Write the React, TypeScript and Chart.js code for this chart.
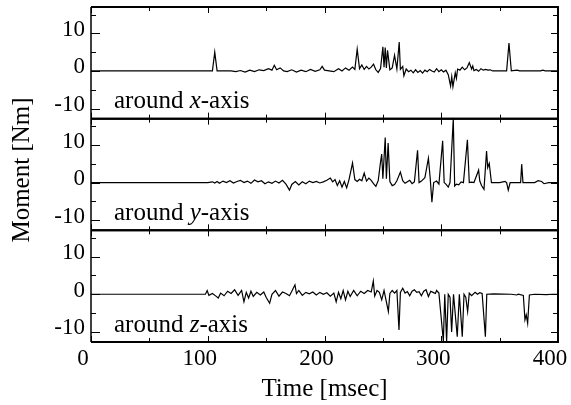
import React, { useEffect, useRef } from "react";
import { Chart, registerables } from "chart.js";

Chart.register(...registerables);

const FONT = "'Liberation Serif', 'Times New Roman', serif";

// Tick values
const xMajorTicks = [0, 100, 200, 300, 400];
const xMinorTicks = [50, 150, 250, 350];
const yMajorTicks = [-10, 0, 10];
const yMinorTicks = [-5, 5, 15];
const Y_MIN = -12.7;
const Y_MAX = 17;

const panelAxes = ["x", "y", "z"];

// Moment around x-axis
const timeX = [0, 104, 106, 108, 120, 124, 128, 132, 136, 140, 144, 148, 152, 155, 157, 159, 162, 165, 168, 172, 176, 180, 184, 188, 192, 196, 198, 200, 204, 208, 212, 215, 218, 221, 224, 226, 228, 230, 232, 234, 236, 238, 240, 242, 244, 246, 248, 250, 251, 252, 253, 254, 256, 258, 260, 262, 264, 265, 267, 268, 270, 272, 274, 276, 278, 280, 282, 284, 286, 288, 290, 292, 294, 296, 298, 300, 302, 304, 306, 308, 309, 310, 312, 313, 314, 316, 318, 320, 322, 324, 326, 327, 328, 330, 332, 334, 336, 338, 340, 342, 344, 346, 356, 358, 360, 365, 367, 385, 387, 389, 400];
const momentX = [0, 0, 5, 0, 0, -0.2, 0.1, -0.3, 0.2, -0.2, 0.3, 0.1, 0.6, 0.2, 1.5, 0.3, 0.8, 0, -0.2, 0.3, -0.3, 0.2, -0.2, 0.4, -0.1, 0.3, 1.2, 0.2, 0, -0.2, 0.6, 0, 0.8, 0.2, 1.0, 0.4, 5.8, 0.6, 1.6, 0.4, 1.2, 0.5, 1.0, 1.8, 0.3, -0.4, 0.6, 6.4, 1.0, 6.2, 0.8, 5.5, 0.3, 0.8, 4.2, 0.5, 7.7, 0.4, 1.2, -1.3, 0.5, -0.2, 0.2, -0.5, 0.3, -0.4, 0.1, -0.6, 0.2, -0.2, 0.4, 0, -0.3, 0.6, -0.2, 0.3, -0.3, 0.2, -1.0, -4.0, -1.5, -4.2, -0.5, -2.0, 0.5, 0.2, 1.0, 0.3, 0.8, 2.2, 0.5, 1.3, 0.1, 0.4, -0.1, 0.6, 0.2, 0.4, 0.2, 0.3, 0, 0, 0, 7.4, 0, 0.2, 0, 0, 0.2, 0, 0];

// Moment around y-axis
const timeY = [0, 100, 104, 106, 108, 110, 113, 116, 119, 122, 125, 128, 131, 134, 137, 140, 143, 146, 149, 152, 155, 158, 161, 164, 167, 170, 172, 175, 178, 181, 184, 187, 190, 193, 196, 199, 202, 205, 207, 209, 211, 213, 215, 217, 219, 221, 224, 226, 228, 230, 232, 234, 236, 238, 240, 242, 244, 246, 248, 249, 250, 252, 253, 254.5, 256, 258, 260, 262, 265, 267, 269, 271, 273, 275, 277, 279.7, 281, 283, 286, 289, 290.5, 292, 293.5, 296, 298, 301.2, 302.5, 304, 306, 307.5, 310.3, 311.5, 313, 315, 317, 319, 322.4, 324, 326, 328, 332, 333, 334.5, 336.6, 338.8, 339.8, 341.1, 343, 350, 354.6, 356, 357.4, 359, 368, 368.9, 370, 380, 383, 386, 388, 392, 400];
const momentY = [0, 0, 0.2, -0.1, 0.3, -0.2, 0.4, 0, 0.5, -0.1, 0.3, 0.6, 0, 0.4, -0.2, 0.7, 0.2, 0.5, -0.3, 0.2, -0.2, 0.4, -0.1, 0.6, -0.4, -2.0, -0.5, 0.3, -0.6, 0.2, -0.3, 0.4, 0, 0.3, -0.1, 0.2, 0.6, 1.2, 0.2, 0.8, -0.8, 0.5, -1.2, 0.3, -1.4, 0.8, 5.2, 0.8, 0.3, 0.9, 0.5, 2.5, 0.4, 1.2, 0.6, -0.3, -1.0, 0.5, 5.5, 7.6, 1.0, 12.0, 1.0, 10.5, 0.3, -0.8, -0.5, 0.5, 2.8, 0.5, -0.2, 0.2, 0.6, -0.3, 0.2, 8.6, 0, 0.4, 1.3, 6.5, 1.3, -5.2, 0, 0.4, -0.4, 11.1, 0, -0.4, -1.2, 0, 17, -0.9, -0.4, -0.6, 0.2, 0, 11.4, 0, 0.1, 0, 3.3, 0.4, -0.8, -1.8, 8.4, 4, 5.1, 0, 0, 0.3, 0, -2, 0, 0, 4.9, 0, 0, 0.5, 0.3, -0.3, 0, 0];

// Moment around z-axis
const timeZ = [0, 98, 99.5, 101, 104, 107, 109, 111, 114, 117, 120, 123, 126, 129, 131, 133, 135, 137, 139, 142, 145, 148, 150, 153, 155, 158, 161, 164, 167, 170, 172, 174.7, 176, 178, 181, 184, 187, 190, 193, 196, 199, 202, 205, 208, 210, 212, 214, 216, 218, 220, 222, 225, 228, 231, 234, 237, 240, 241.8, 243, 245, 247, 249, 251, 253, 254.7, 256, 258, 260, 262, 263.8, 265, 267, 269, 271, 273, 275, 277, 279, 281, 283, 285, 287, 289, 291, 293, 295, 296, 298, 301.8, 303, 304.6, 306, 307.5, 308.9, 310.5, 313.7, 315.5, 318, 319.5, 321, 322.6, 324, 326, 329, 331, 333, 335, 337.8, 339, 345, 360, 364.6, 366, 370.3, 371.7, 372.8, 374, 375.5, 380, 390, 395, 400];
const momentZ = [0, 0, 1, -0.3, 0.2, -0.5, -1, 0.3, -0.4, 0.8, 0.2, 1.2, -0.3, 1.0, -2, 0.5, -1.0, 0.8, -0.6, 0.5, -0.2, 0.6, -0.8, -2.4, 0, 1.0, -0.5, 0.6, 0.2, -0.4, 0.8, 2.5, 0.2, 1.0, -0.3, 0.5, 0.1, 0.6, -0.2, 0.5, 0, 0.4, -0.5, 0.3, -2, 0.5, -1.2, 1.0, -1.5, 0.8, -0.6, 1.0, -0.4, 0.8, 0.2, 1.0, 0.6, 3.5, -0.5, 1.0, 0.5, -1.5, 1.0, -2, -4.6, 0.2, 1.0, 0.3, 1.0, -9.5, 0.5, 1.6, 0.3, 0.7, -0.4, 0.8, 1.2, 0.5, 0.7, -0.4, 0.8, 1.2, -0.6, 0.8, 0.5, 0.2, 1.0, 0.3, -12.5, 0, -12.5, 0, -0.8, -10, 0, -11.3, 0, -11.3, 0, -0.8, -4.6, 0.3, -0.4, 0.5, 0, 0.4, 0.2, -11.3, 0, 0.1, 0, -0.2, 0, -0.3, -6.8, -5.5, -7.7, -0.2, 0, -0.1, 0, 0];

const toPoints = (ts: number[], vs: number[]) => ts.map((t, i) => ({ x: t, y: vs[i] }));

const framePlugin = {
  id: "panelFrames",
  afterDatasetsDraw(chart: any) {
    const ctx = chart.ctx as CanvasRenderingContext2D;
    const ca = chart.chartArea;
    const xs = chart.scales.x;
    const ids = ["y1", "y2", "y3"];
    ctx.save();
    ctx.strokeStyle = "#000";
    ctx.fillStyle = "#000";
    ids.forEach((id, i) => {
      const s = chart.scales[id];
      const top = s.top;
      const bot = s.bottom;
      ctx.lineWidth = 1;
      ctx.beginPath();
      [...yMajorTicks, ...yMinorTicks].forEach((v) => {
        if (v < s.min || v > s.max) return;
        const y = Math.round(s.getPixelForValue(v)) + 0.5;
        const major = yMajorTicks.includes(v);
        ctx.moveTo(ca.left, y);
        ctx.lineTo(ca.left + (major ? 9 : 5), y);
        ctx.moveTo(ca.right, y);
        ctx.lineTo(ca.right - (major ? 7 : 5), y);
      });
      [...xMajorTicks, ...xMinorTicks].forEach((v) => {
        const x = Math.round(xs.getPixelForValue(v)) + 0.5;
        const len = xMajorTicks.includes(v) ? 6 : 4;
        ctx.moveTo(x, top);
        ctx.lineTo(x, top + len);
        ctx.moveTo(x, bot);
        ctx.lineTo(x, bot - len);
      });
      ctx.stroke();
      // horizontal borders
      ctx.lineWidth = 2;
      ctx.beginPath();
      ctx.moveTo(ca.left, top);
      ctx.lineTo(ca.right + 1, top);
      ctx.moveTo(ca.left, bot);
      ctx.lineTo(ca.right + 1, bot);
      ctx.stroke();
      // panel label
      const base = bot - 10.5;
      let px = 114;
      ctx.font = `25px ${FONT}`;
      ctx.textAlign = "left";
      ctx.textBaseline = "alphabetic";
      ctx.fillText("around ", px, base);
      px += ctx.measureText("around ").width;
      ctx.font = `italic 25px ${FONT}`;
      ctx.fillText(panelAxes[i], px, base);
      px += ctx.measureText(panelAxes[i]).width;
      ctx.font = `25px ${FONT}`;
      ctx.fillText("-axis", px, base);
    });
    // vertical borders
    ctx.lineWidth = 1.5;
    ctx.beginPath();
    ctx.moveTo(ca.left, ca.top);
    ctx.lineTo(ca.left, ca.bottom);
    ctx.stroke();
    ctx.lineWidth = 2;
    ctx.beginPath();
    ctx.moveTo(ca.right, ca.top);
    ctx.lineTo(ca.right, ca.bottom);
    ctx.stroke();
    // axis titles
    ctx.font = `25px ${FONT}`;
    ctx.textAlign = "center";
    ctx.textBaseline = "alphabetic";
    ctx.fillText("Time [msec]", (ca.left + ca.right) / 2, 396);
    ctx.translate(29, 170);
    ctx.rotate(-Math.PI / 2);
    ctx.fillText("Moment [Nm]", 0, 0);
    ctx.restore();
  },
};

const yScale = () => ({
  type: "linear" as const,
  position: "left" as const,
  stack: "panels",
  stackWeight: 1,
  min: Y_MIN,
  max: Y_MAX,
  afterBuildTicks: (s: any) => {
    s.ticks = yMajorTicks.map((v) => ({ value: v }));
  },
  afterFit: (s: any) => {
    s.width = 91;
    s.paddingTop = 0;
    s.paddingBottom = 0;
  },
  grid: { display: false, drawTicks: false },
  border: { display: false },
  ticks: {
    font: { family: FONT, size: 23 },
    color: "#000",
    padding: 6,
    labelOffset: -3.5,
    callback: (v: any) => String(v),
  },
});

export default function App() {
  const ref = useRef<HTMLCanvasElement | null>(null);
  useEffect(() => {
    if (!ref.current) return;
    const line = { borderColor: "#000", borderWidth: 1.2, pointRadius: 0, tension: 0, fill: false };
    const chart = new Chart(ref.current, {
      type: "line",
      data: {
        datasets: [
          { ...line, label: "around x-axis", data: toPoints(timeX, momentX), yAxisID: "y1" },
          { ...line, label: "around y-axis", data: toPoints(timeY, momentY), yAxisID: "y2" },
          { ...line, label: "around z-axis", data: toPoints(timeZ, momentZ), yAxisID: "y3" },
        ],
      },
      options: {
        animation: false,
        responsive: false,
        devicePixelRatio: 1,
        layout: { padding: { top: 7, right: 13, bottom: 0, left: 0 } },
        plugins: { legend: { display: false }, tooltip: { enabled: false } },
        scales: {
          x: {
            type: "linear",
            position: "bottom",
            min: 0,
            max: 400,
            afterBuildTicks: (s: any) => {
              s.ticks = xMajorTicks.map((v) => ({ value: v }));
            },
            afterFit: (s: any) => {
              s.height = 63;
              s.paddingLeft = 0;
              s.paddingRight = 0;
            },
            grid: { display: false, drawTicks: false },
            border: { display: false },
            ticks: {
              font: { family: FONT, size: 23 },
              color: "#000",
              padding: 3,
              labelOffset: -8,
              maxRotation: 0,
              autoSkip: false,
              callback: (v: any) => String(v),
            },
          },
          y3: yScale(),
          y2: yScale(),
          y1: yScale(),
        } as any,
      },
      plugins: [framePlugin],
    });
    return () => chart.destroy();
  }, []);
  return (
    <div style={{ position: "fixed", left: 0, top: 0, width: 571, height: 405, background: "#fff" }}>
      <canvas ref={ref} width={571} height={405} style={{ display: "block" }} />
    </div>
  );
}
